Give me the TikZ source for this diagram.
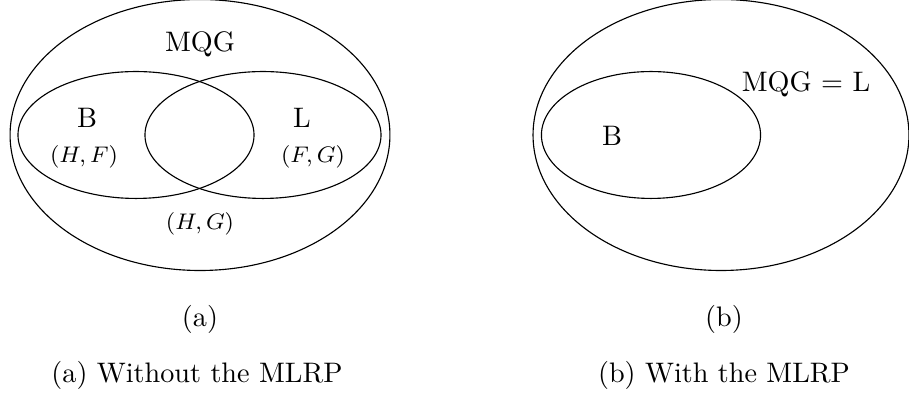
\documentclass[tikz,border=0pt]{standalone}
\usetikzlibrary{shapes.geometric}

\begin{document}
\begin{tikzpicture}[x=0.3546pt,y=-0.3546pt,
  setbox/.style={draw, ellipse, inner sep=0pt},
  lb/.style={anchor=base, inner sep=0pt},
  pr/.style={anchor=base, inner sep=0pt, font=\footnotesize}]
\useasboundingbox (0,0) rectangle (909,398);
% (a) without the MLRP
\node[setbox, minimum width=134.7pt, minimum height=96.1pt] (mqgA) at (200,135) {};
\node[setbox, minimum width=83.7pt, minimum height=45pt] (bA) at (136,135) {};
\node[setbox, minimum width=83.7pt, minimum height=45pt] (lA) at (263,135) {};
\node[lb] (mqgAlab) at (200,52) {MQG};
\node[lb] (bAlab) at (87,128) {B};
\node[lb] (lAlab) at (302,128) {L};
\node[pr] (hf) at (84,163) {$(H,F)$};
\node[pr] (fg) at (313,163) {$(F,G)$};
\node[pr] (hg) at (200,230) {$(H,G)$};
\node[lb] (subA) at (200,327) {(a)};
\node[lb] (capA) at (197,383) {(a) Without the MLRP};
% (b) with the MLRP
\node[setbox, minimum width=133.3pt, minimum height=96.1pt] (mqgB) at (721,135) {};
\node[setbox, minimum width=77.7pt, minimum height=45pt] (bB) at (651,135) {};
\node[lb] (mqgBlab) at (806,92) {MQG $=$ L};
\node[lb] (bBlab) at (612,146) {B};
\node[lb] (subB) at (724,327) {(b)};
\node[lb] (capB) at (724,383) {(b) With the MLRP};
\end{tikzpicture}
\end{document}
